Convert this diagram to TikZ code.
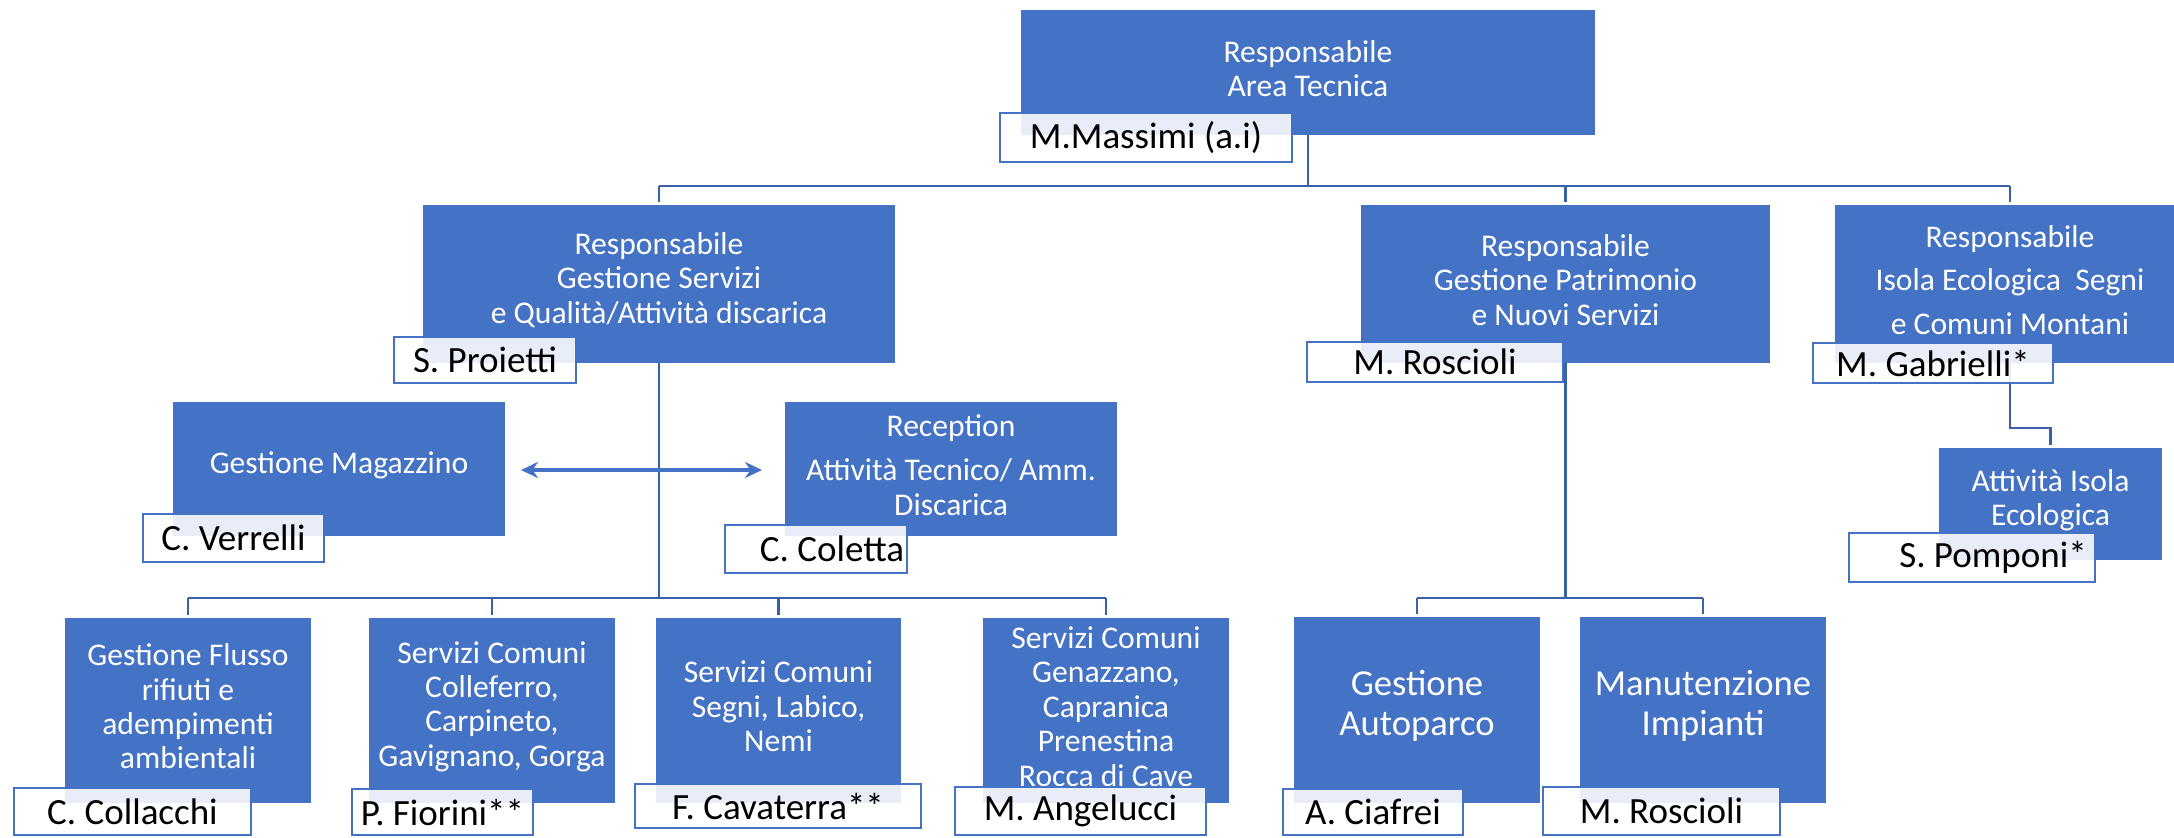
\documentclass[tikz,border=0pt]{standalone}
\usepackage{fontspec}
\setmainfont{Carlito}
\usetikzlibrary{arrows.meta}
\definecolor{boxblue}{HTML}{4472C4}
\definecolor{linecol}{RGB}{58,96,168}
\pgfdeclarelayer{bg}
\pgfsetlayers{bg,main}
\tikzset{
  bluebox/.style={fill=boxblue, draw=none, inner sep=0pt},
  boxtext/.style={text=white, align=center, inner sep=0pt,
    font=\fontsize{15.8}{17.2}\selectfont},
  bigtext/.style={font=\fontsize{18.3}{20}\selectfont},
  namebox/.style={draw=boxblue, line width=1.3pt, fill=white, fill opacity=0.88,
    text opacity=1, text=black, inner sep=0pt, font=\fontsize{18.5}{20}\selectfont},
  conn/.style={draw=linecol, line width=1.4pt},
  dblarrow/.style={draw=boxblue, line width=1.8pt, {Stealth[length=8.5pt,width=8pt]}-{Stealth[length=8.5pt,width=8pt]}}
}
% blue box: #1 extra text style, #2 name, #3 x1, #4 y1, #5 x2, #6 y2, #7 text
\newcommand\mkbox[7]{%
  \node[bluebox, minimum width={(#5-#3)*0.5pt}, minimum height={(#6-#4)*0.5pt},
    label={[name=#2-t, boxtext, #1, yshift=2pt]center:{#7}}]
    (#2) at ({(#3+#5)/2},{(#4+#6)/2}) {};}
% name box: #1 name, #2 x1, #3 y1, #4 x2, #5 y2, #6 text
\newcommand\mkname[6]{%
  \node[namebox, minimum width={(#4-#2)*0.5pt}, minimum height={(#5-#3)*0.5pt}]
    (#1) at ({(#2+#4)/2},{(#3+#5)/2}) {#6};}
\begin{document}
\begin{tikzpicture}[x=0.5pt,y=-0.5pt]
\useasboundingbox (0,0) rectangle (2174,837);
% blue boxes
\mkbox{}{top}{1021}{10}{1595}{135}{Responsabile\\Area Tecnica}
\mkbox{}{servizi}{423}{205}{895}{363}{Responsabile\\Gestione Servizi\\e Qualità/Attività discarica}
\mkbox{}{patrimonio}{1361}{205}{1770}{363}{Responsabile\\Gestione Patrimonio\\e Nuovi Servizi}
\mkbox{}{isola}{1835}{205}{2185}{363}{Responsabile\\[4.5pt]Isola Ecologica\ \ Segni\\[4.5pt]e Comuni Montani}
\mkbox{}{magazzino}{173}{402}{505}{536}{Gestione Magazzino}
\mkbox{}{reception}{785}{402}{1117}{536}{Reception\\[5pt]Attività Tecnico/ Amm.\\Discarica}
\mkbox{}{attiv}{1939}{448}{2162}{560}{Attività Isola\\Ecologica}
\mkbox{}{b1}{65}{618}{311}{803}{Gestione Flusso\\rifiuti e\\adempimenti\\ambientali}
\mkbox{}{b2}{369}{618}{615}{803}{Servizi Comuni\\Colleferro,\\Carpineto,\\Gavignano, Gorga}
\mkbox{}{b3}{656}{618}{901}{803}{Servizi Comuni\\Segni, Labico,\\Nemi}
\mkbox{}{b4}{983}{618}{1229}{803}{Servizi Comuni\\Genazzano,\\Capranica\\Prenestina\\Rocca di Cave}
\mkbox{bigtext}{autoparco}{1294}{617}{1540}{803}{Gestione\\Autoparco}
\mkbox{bigtext}{manut}{1580}{617}{1826}{803}{Manutenzione\\Impianti}
% connectors
\begin{pgfonlayer}{bg}
\fill[white] (0,0) rectangle (2174,837);
\coordinate (bus1) at (0,186);
\coordinate (bus2) at (0,598);
\coordinate (bend) at (0,428);
\draw[conn] (top.south) -- (top.south |- bus1);
\draw[conn] (servizi.north |- bus1) -- (isola.north |- bus1);
\foreach \n in {servizi,patrimonio,isola}
  \draw[conn, shorten >=1.5pt] (\n.north |- bus1) -- (\n.north);
\draw[conn] (servizi.south) -- (servizi.south |- bus2);
\draw[conn] (b1.north |- bus2) -- (b4.north |- bus2);
\foreach \n in {b1,b2,b3,b4}
  \draw[conn, shorten >=1.5pt] (\n.north |- bus2) -- (\n.north);
\draw[conn] (patrimonio.south) -- (patrimonio.south |- bus2);
\draw[conn] (autoparco.north |- bus2) -- (manut.north |- bus2);
\foreach \n in {autoparco,manut}
  \draw[conn, shorten >=1.5pt] (\n.north |- bus2) -- (\n.north);
\draw[conn, shorten >=1.5pt] (isola.south) -- (isola.south |- bend) -| (attiv.north);
\end{pgfonlayer}
% name boxes
\mkname{nMassimi}{1000}{113}{1292}{162}{M.Massimi (a.i)}
\mkname{nProietti}{394}{337}{576}{383}{S. Proietti}
\mkname{nRoscioliA}{1307}{342}{1563}{382}{M. Roscioli}
\mkname{nGabrielli}{1813}{343}{2053}{383}{M. Gabrielli*}
\mkname{nVerrelli}{143}{514}{324}{562}{C. Verrelli}
\mkname{nColetta}{725}{525}{907}{573}{\hspace*{16pt}C. Coletta}
\mkname{nPomponi}{1849}{533}{2095}{582}{\hspace*{21pt}S. Pomponi*}
\mkname{nCollacchi}{14}{788}{251}{835}{C. Collacchi}
\mkname{nFiorini}{352}{789}{533}{835}{P. Fiorini**}
\mkname{nCavaterra}{635}{784}{921}{828}{F. Cavaterra**}
\mkname{nAngelucci}{955}{787}{1206}{835}{M. Angelucci}
\mkname{nCiafrei}{1283}{789}{1463}{835}{A. Ciafrei}
\mkname{nRoscioliB}{1543}{787}{1780}{835}{M. Roscioli}
% double arrow
\coordinate (arrL) at (521,470);
\coordinate (arrR) at (762,470);
\draw[dblarrow] (arrL) -- (arrR);
\end{tikzpicture}
\end{document}
